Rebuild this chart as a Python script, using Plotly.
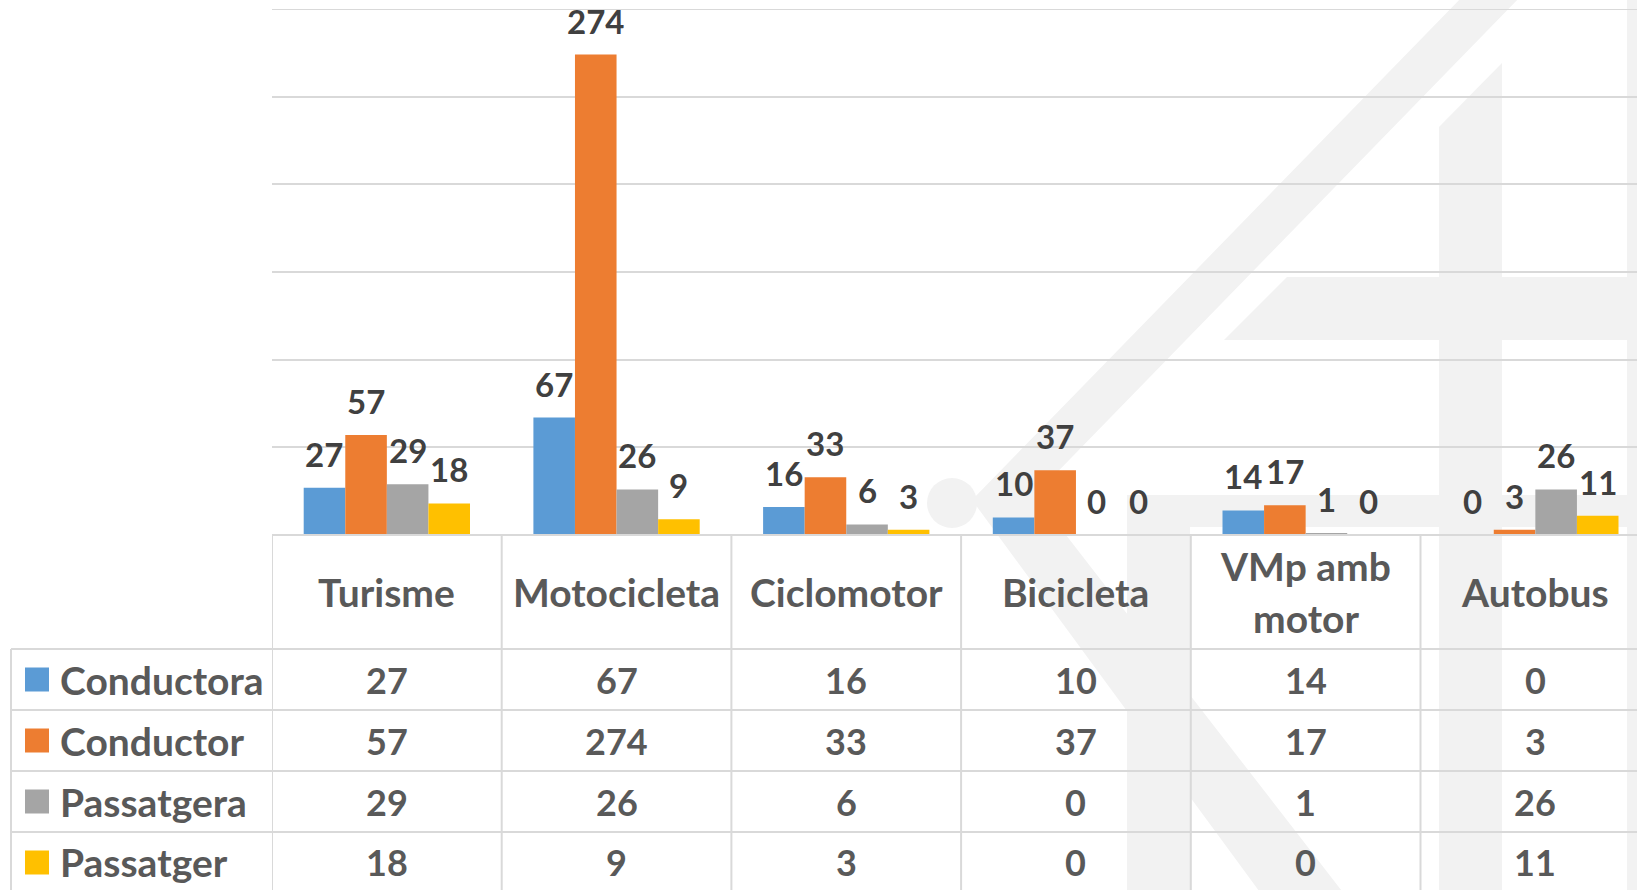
import plotly.graph_objects as go

# ---------------- data ----------------
categories = ["Turisme", "Motocicleta", "Ciclomotor", "Bicicleta", "VMp amb<br>motor", "Autobus"]
series_names = ["Conductora", "Conductor", "Passatgera", "Passatger"]
conductora = [27, 67, 16, 10, 14, 0]
conductor = [57, 274, 33, 37, 17, 3]
passatgera = [29, 26, 6, 0, 1, 26]
passatger = [18, 9, 3, 0, 0, 11]
y_ticks = [0, 50, 100, 150, 200, 250, 300]

series_values = [conductora, conductor, passatgera, passatger]
colors = ["#5B9BD5", "#ED7D31", "#A5A5A5", "#FFC000"]

# ---------------- geometry (page pixels) ----------------
PAGE_W, PAGE_H = 1637, 890
L, R, T, B = 272, 1637, 9, 535          # plot area in page pixels
PW, PH = R - L, B - T
CAT_W = 229.7
BARGAP = 0.276
FONT = "Lato"
LABEL_COLOR = "#404040"
TABLE_COLOR = "#595959"
LINE_COLOR = "#D9D9D9"
WM = "#F2F2F2"


def px(X):
    return (X - L) / PW


def py(Y):
    return (B - Y) / PH


x_max = -0.5 + PW / CAT_W

fig = go.Figure()
xs = list(range(len(categories)))
for name, vals, col in zip(series_names, series_values, colors):
    fig.add_trace(go.Bar(x=xs, y=vals, name=name, marker=dict(color=col, line=dict(width=0)),
                         showlegend=False, hoverinfo="x+y+name"))

shapes = []
annotations = []


# ---- watermark (decorative background logo) ----
def poly(pts):
    d = "M " + " L ".join(f"{px(a):.5f},{py(b):.5f}" for a, b in pts) + " Z"
    return dict(type="path", xref="paper", yref="paper", path=d, fillcolor=WM,
                line=dict(width=0), layer="below")


shapes.append(poly([(1464, -5), (1522, -5), (1035, 495), (1345, 895), (1262, 895), (972, 500)]))
shapes.append(poly([(1502, 63), (1502, 895), (1439, 895), (1439, 127)]))
shapes.append(poly([(1287, 277), (1637, 277), (1637, 340), (1224, 340)]))
shapes.append(poly([(1627, -5), (1640, -5), (1640, 895), (1627, 895)]))
shapes.append(poly([(1127, 495), (1637, 495), (1637, 527), (1190, 527), (1190, 895), (1127, 895)]))
shapes.append(dict(type="circle", xref="paper", yref="paper",
                   x0=px(927), x1=px(977), y0=py(528), y1=py(478),
                   fillcolor=WM, line=dict(width=0), layer="below"))

# top gridline (at the edge of the value range)
shapes.append(dict(type="line", xref="paper", yref="y", x0=0, x1=1, y0=y_ticks[-1], y1=y_ticks[-1],
                   line=dict(color=LINE_COLOR, width=2), layer="below"))

# ---- data labels ----
bw = (1 - BARGAP) / len(series_values)
for j, vals in enumerate(series_values):
    for i, v in enumerate(vals):
        annotations.append(dict(x=i + (j - 1.5) * bw, y=v, xref="x", yref="y",
                                text=str(v), showarrow=False, yanchor="bottom", yshift=12,
                                font=dict(family=FONT, size=33, color=LABEL_COLOR, weight="bold")))

# ---- data table ----
row_lines = [649, 710, 771, 832]
for Y in [B] + row_lines:
    x0 = px(L) if Y == B else px(11)
    shapes.append(dict(type="line", xref="paper", yref="paper", x0=x0, x1=1, y0=py(Y), y1=py(Y),
                       line=dict(color=LINE_COLOR, width=2), layer="above"))
for kk in range(len(categories) + 1):
    shapes.append(dict(type="line", xref="x", yref="paper", x0=kk - 0.5, x1=kk - 0.5,
                       y0=py(B), y1=py(PAGE_H + 5), line=dict(color=LINE_COLOR, width=2), layer="above"))
shapes.append(dict(type="line", xref="paper", yref="paper", x0=px(11), x1=px(11),
                   y0=py(649), y1=py(PAGE_H + 5), line=dict(color=LINE_COLOR, width=2), layer="above"))

WORD_SIZE = 39
NUM_SIZE = 36

# header labels
header_c = (B + 649) / 2
for i, cat in enumerate(categories):
    lines = cat.split("<br>")
    n = len(lines)
    for kk, ln in enumerate(lines):
        Yc = header_c + (kk - (n - 1) / 2) * 52
        annotations.append(dict(x=i, y=py(Yc), xref="x", yref="paper", text=ln, showarrow=False,
                                yanchor="middle", xanchor="center",
                                font=dict(family=FONT, size=WORD_SIZE, color=TABLE_COLOR, weight="bold")))

row_h = 61
for j, (name, vals, col) in enumerate(zip(series_names, series_values, colors)):
    Yc = row_lines[j] + row_h / 2
    shapes.append(dict(type="rect", xref="paper", yref="paper", x0=px(25), x1=px(49),
                       y0=py(Yc + 12), y1=py(Yc - 12), fillcolor=col, line=dict(width=0), layer="above"))
    annotations.append(dict(x=px(58), y=py(Yc), xref="paper", yref="paper", text=name, showarrow=False,
                            xanchor="left", yanchor="middle",
                            font=dict(family=FONT, size=WORD_SIZE, color=TABLE_COLOR, weight="bold")))
    for i, v in enumerate(vals):
        annotations.append(dict(x=i, y=py(Yc), xref="x", yref="paper", text=str(v), showarrow=False,
                                xanchor="center", yanchor="middle",
                                font=dict(family=FONT, size=NUM_SIZE, color=TABLE_COLOR, weight="bold")))

fig.update_layout(
    width=PAGE_W, height=PAGE_H,
    margin=dict(l=L, r=PAGE_W - R, t=T, b=PAGE_H - B, pad=0),
    paper_bgcolor="white", plot_bgcolor="rgba(0,0,0,0)",
    barmode="group", bargap=BARGAP, bargroupgap=0,
    shapes=shapes, annotations=annotations,
    showlegend=False,
    xaxis=dict(range=[-0.5, x_max], showticklabels=False, showgrid=False, zeroline=False,
               showline=False, ticks="", fixedrange=True),
    yaxis=dict(range=[0, 300], tickvals=y_ticks, showticklabels=False, showgrid=True,
               gridcolor=LINE_COLOR, gridwidth=2, zeroline=False, showline=False, ticks="",
               fixedrange=True),
    font=dict(family=FONT),
)

fig.write_html("out.html", config={"displayModeBar": False},
               post_script="document.body.style.margin='0';document.body.style.overflow='hidden';")
